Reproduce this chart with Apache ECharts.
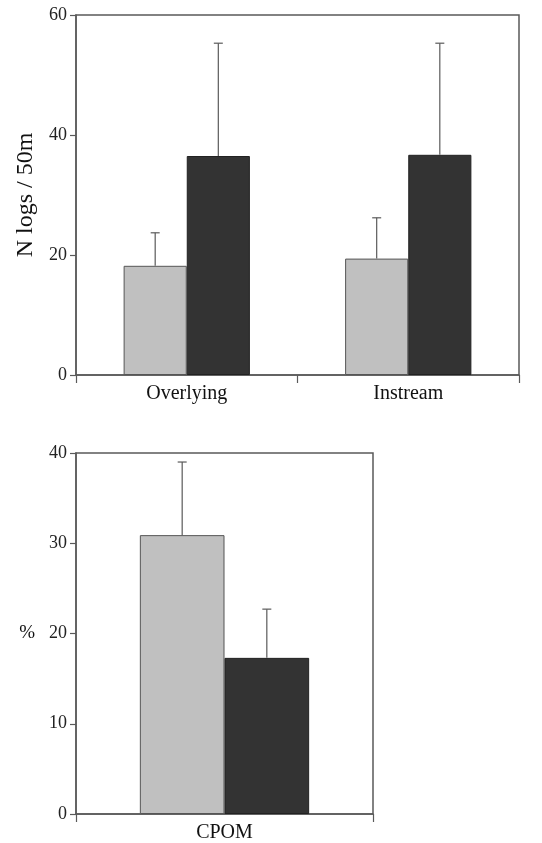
<!DOCTYPE html>
<html>
<head>
<meta charset="utf-8">
<script src="https://cdn.jsdelivr.net/npm/echarts@6/dist/echarts.min.js"></script>
<style>html,body{margin:0;padding:0;background:#fff;}#main{width:542px;height:843px;}</style>
</head>
<body>
<div id="main"></div>
<script>
// Top panel
const topCategories = ['Overlying', 'Instream'];
const topLight = [18.2, 19.4];
const topLightErr = [5.5, 6.8];
const topDark = [36.5, 36.7];
const topDarkErr = [18.8, 18.6];
const topTicks = [0, 20, 40, 60];

// Bottom panel
const botCategories = ['CPOM'];
const botLight = [30.9];
const botLightErr = [8.1];
const botDark = [17.3];
const botDarkErr = [5.4];
const botTicks = [0, 10, 20, 30, 40];

const LIGHT = '#c0c0c0';
const DARK = '#333333';
const AXIS = '#5a5a5a';
const FONT = 'Liberation Serif';
const BAR_FRAC = 0.285;

function errSeries(xi, yi, means, errs, side) {
  return {
    type: 'custom',
    xAxisIndex: xi, yAxisIndex: yi,
    z: 5,
    data: means.map((m, i) => [i, m, m + errs[i]]),
    renderItem: function (params, api) {
      const cat = api.value(0);
      const bandW = api.size([1, 0])[0];
      const bw = bandW * BAR_FRAC;
      const base = api.coord([cat, api.value(1)]);
      const top = api.coord([cat, api.value(2)]);
      const x = base[0] + side * bw / 2;
      const cap = 4.5;
      return {
        type: 'group',
        children: [
          {type: 'line', shape: {x1: x, y1: base[1], x2: x, y2: top[1]}, style: {stroke: AXIS, lineWidth: 1.2}},
          {type: 'line', shape: {x1: x - cap, y1: top[1], x2: x + cap, y2: top[1]}, style: {stroke: AXIS, lineWidth: 1.2}}
        ]
      };
    }
  };
}

function yAx(gi, max, interval, name, nameGap, nameSize, nameRotate) {
  return {
    type: 'value', gridIndex: gi, min: 0, max: max, interval: interval,
    name: name, nameLocation: 'middle', nameGap: nameGap, nameRotate: nameRotate,
    nameMoveOverlap: false,
    nameTextStyle: {fontFamily: FONT, fontSize: nameSize, color: '#111'},
    axisLine: {show: true, lineStyle: {color: AXIS, width: 1.5}},
    axisTick: {show: true, length: 6, lineStyle: {color: AXIS, width: 1.2}},
    axisLabel: {fontFamily: FONT, fontSize: 18, color: '#222', margin: 9},
    splitLine: {show: false}
  };
}
function xAx(gi, cats) {
  return {
    type: 'category', gridIndex: gi, data: cats,
    axisLine: {show: true, lineStyle: {color: AXIS, width: 1.5}},
    axisTick: {show: true, length: 8, alignWithLabel: false, lineStyle: {color: AXIS, width: 1.2}},
    axisLabel: {fontFamily: FONT, fontSize: 20, color: '#111', margin: 9},
    splitLine: {show: false}
  };
}

const chart = echarts.init(document.getElementById('main'), null, {renderer: 'canvas'});
chart.setOption({
  backgroundColor: '#fff',
  animation: false,
  grid: [
    {left: 76, top: 15, right: 23, height: 360, show: true, borderColor: AXIS, borderWidth: 1.5, containLabel: false, outerBoundsMode: 'none'},
    {left: 76, top: 453, width: 297, height: 361, show: true, borderColor: AXIS, borderWidth: 1.5, containLabel: false, outerBoundsMode: 'none'}
  ],
  xAxis: [xAx(0, topCategories), xAx(1, botCategories)],
  yAxis: [
    yAx(0, topTicks[topTicks.length - 1], topTicks[1] - topTicks[0], 'N logs / 50m', 38, 24, 90),
    yAx(1, botTicks[botTicks.length - 1], botTicks[1] - botTicks[0], '%', 41, 19, 0)
  ],
  series: [
    {type: 'bar', xAxisIndex: 0, yAxisIndex: 0, data: topLight, barWidth: (BAR_FRAC * 100) + '%', barGap: '0%',
     itemStyle: {color: LIGHT, borderColor: '#555', borderWidth: 1}},
    {type: 'bar', xAxisIndex: 0, yAxisIndex: 0, data: topDark, barWidth: (BAR_FRAC * 100) + '%', barGap: '0%',
     itemStyle: {color: DARK, borderColor: '#222', borderWidth: 1}},
    errSeries(0, 0, topLight, topLightErr, -1),
    errSeries(0, 0, topDark, topDarkErr, 1),
    {type: 'bar', xAxisIndex: 1, yAxisIndex: 1, data: botLight, barWidth: (BAR_FRAC * 100) + '%', barGap: '0%',
     itemStyle: {color: LIGHT, borderColor: '#555', borderWidth: 1}},
    {type: 'bar', xAxisIndex: 1, yAxisIndex: 1, data: botDark, barWidth: (BAR_FRAC * 100) + '%', barGap: '0%',
     itemStyle: {color: DARK, borderColor: '#222', borderWidth: 1}},
    errSeries(1, 1, botLight, botLightErr, -1),
    errSeries(1, 1, botDark, botDarkErr, 1)
  ]
});
</script>
</body>
</html>
